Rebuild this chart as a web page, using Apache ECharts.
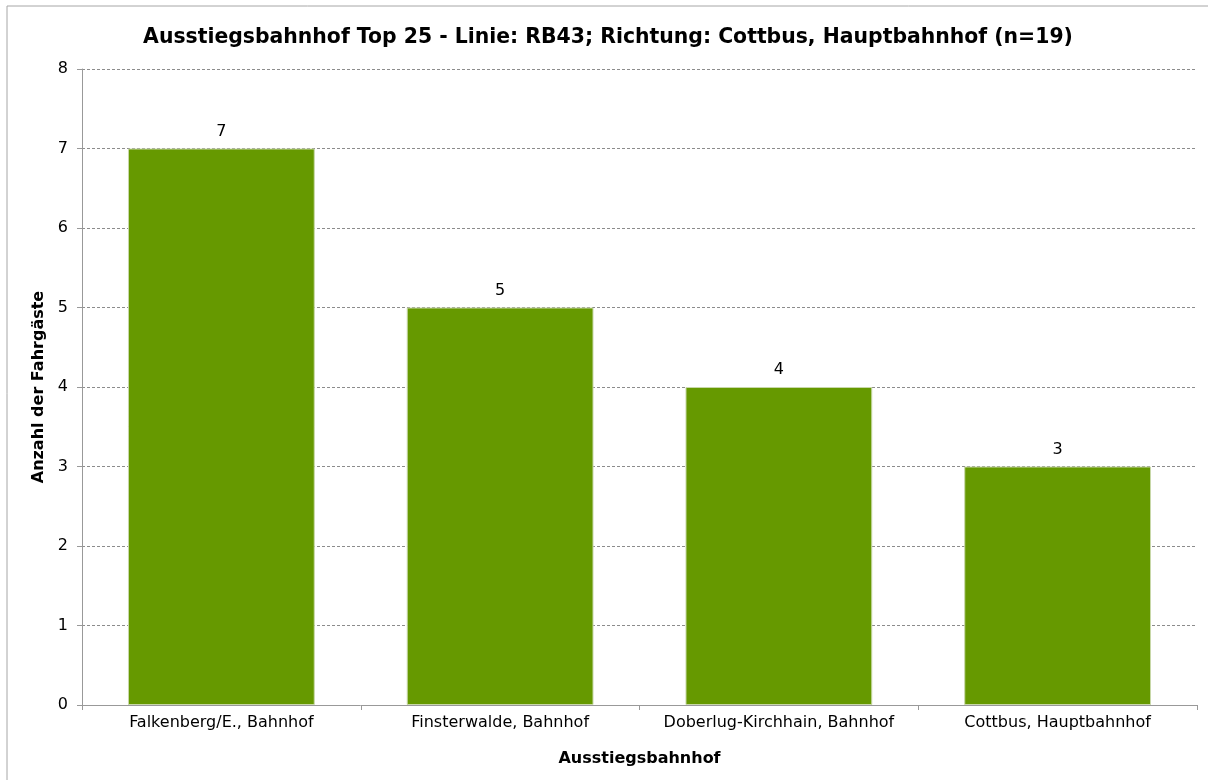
<!DOCTYPE html>
<html>
<head>
<meta charset="utf-8">
<script src="https://cdn.jsdelivr.net/npm/echarts@6/dist/echarts.min.js"></script>
<style>
    body { margin: 0; background: #fff; }
    #main { width: 1208px; height: 780px; }
</style>
</head>
<body>
<div id="main"></div>
<script>
    // Daten
    var stationen = ['Falkenberg/E., Bahnhof', 'Finsterwalde, Bahnhof', 'Doberlug-Kirchhain, Bahnhof', 'Cottbus, Hauptbahnhof'];
    var fahrgaeste = [7, 5, 4, 3];
    var yTicks = [0, 1, 2, 3, 4, 5, 6, 7, 8];

    var myChart = echarts.init(document.getElementById('main'));
    var schrift = 'DejaVu Sans';

    var option = {
        animation: false,
        backgroundColor: '#fff',
        textStyle: {fontFamily: schrift},
        title: {
            text: 'Ausstiegsbahnhof Top 25 - Linie: RB43; Richtung: Cottbus, Hauptbahnhof (n=19)',
            left: 603,
            textAlign: 'center',
            top: 23,
            textStyle: {fontFamily: schrift, fontSize: 20.4, fontWeight: 'bold', color: '#000'}
        },
        // Rahmen um das Diagramm
        graphic: [{
            type: 'rect',
            shape: {x: 7, y: 6, width: 1300, height: 900},
            style: {fill: 'none', stroke: '#a6a6a6', lineWidth: 1},
            silent: true
        }],
        grid: {left: 82, right: 11, top: 69, bottom: 75},
        xAxis: {
            type: 'category',
            data: stationen,
            name: 'Ausstiegsbahnhof',
            nameLocation: 'middle',
            nameGap: 46,
            nameTextStyle: {fontFamily: schrift, fontSize: 16, fontWeight: 'bold', color: '#000'},
            axisLine: {lineStyle: {color: '#999', width: 1}},
            axisTick: {show: true, interval: 0, alignWithLabel: false, length: 5, lineStyle: {color: '#999'}},
            axisLabel: {interval: 0, fontSize: 16, color: '#000', margin: 10}
        },
        yAxis: {
            type: 'value',
            min: 0,
            max: 8,
            interval: 1,
            name: 'Anzahl der Fahrgäste',
            nameLocation: 'middle',
            nameGap: 33,
            nameTextStyle: {fontFamily: schrift, fontSize: 16, fontWeight: 'bold', color: '#000'},
            axisLine: {show: true, lineStyle: {color: '#999', width: 1}},
            axisTick: {show: true, length: 5, lineStyle: {color: '#999'}},
            axisLabel: {
                fontSize: 16, color: '#000', margin: 14,
                formatter: function (v) { return yTicks.indexOf(v) >= 0 ? String(v) : ''; }
            },
            splitLine: {lineStyle: {color: '#8c8c8c', type: [3, 2], width: 1}}
        },
        series: [{
            type: 'bar',
            data: fahrgaeste,
            barWidth: '67%',
            itemStyle: {color: '#669900', borderColor: '#c8d8a8', borderWidth: 1},
            label: {
                show: true,
                position: 'top',
                distance: 9,
                fontSize: 16,
                color: '#000'
            }
        }]
    };

    myChart.setOption(option);
    window.addEventListener('resize', function () {
        myChart.resize();
    });
</script>
</body>
</html>
